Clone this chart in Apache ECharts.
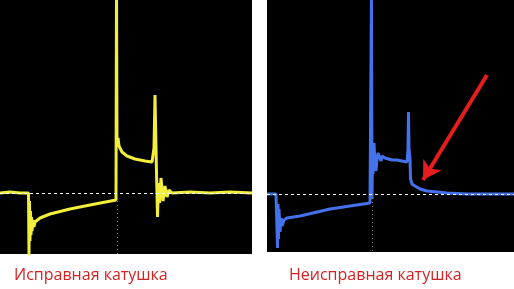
<!DOCTYPE html>
<html><head><meta charset="utf-8">
<script src="https://cdn.jsdelivr.net/npm/echarts@6/dist/echarts.min.js"></script>
<style>html,body{margin:0;padding:0;background:#fff}#c{width:514px;height:289px}</style>
</head><body><div id="c"></div>
<script>
// Left trace (good coil): time, voltage
const goodT = [0,10,20,28.5,29,29.5,30,30.5,31,31.5,32,33,34,35,37,40,50,70,90,116,116.5,117,118,119,122,127,135,145,152,154,155,155.7,156.5,157.5,158.5,159.5,161,163,165,167,169,172,190,210,230,252];
const goodV = [0,1,0,0,-62,-8,-48,-18,-42,-24,-38,-27,-34,-29,-28,-25,-21,-16,-12,-7,205,50,55,47,41,37,34,32,31,45,98,60,20,-24,10,-10,15,-8,7,-4,3,0,1,0,1,0];
// Right trace (faulty coil)
const badT = [0,9,10,10.5,11,11.5,12,13,14,15,17,20,33,63,103,104,104.5,105,105.5,106,107,108,109,110,111,112,114,115,116,118,120,125,130,135,140,141,141.5,142,143,143.5,145,148,153,160,170,180,200,247];
const badV = [0,0,0,-54,-10,-45,-15,-38,-24,-32,-26,-24,-22,-15,-9,-8,205,-5,40,20,51,30,23,35,41,38,33,38,40,36,35,34,34,33,32,45,82,45,35,15,10,8,5,3,2,1,0,0];
const captions = ['Исправная катушка', 'Неисправная катушка'];
const goodTrigger = 117, badTrigger = 105;
const arrowFrom = [220, 119], arrowTo = [156, 14];

const zip = (a, b) => a.map((x, i) => [x, b[i]]);
const chart = echarts.init(document.getElementById('c'), null, {renderer: 'canvas'});
const baseLine = (trig, ymin) => ({
  silent: true, symbol: 'none', label: {show: false},
  data: [
    {yAxis: 0, lineStyle: {color: '#fff', type: [3, 3], width: 1}},
    [{coord: [trig, 0], lineStyle: {color: '#777', type: [1, 3], width: 1}}, {coord: [trig, ymin]}]
  ]
});
const capStyle = {color: '#d42222', fontSize: 16, fontWeight: 'normal', fontFamily: 'Open Sans'};
chart.setOption({
  animation: false,
  title: [
    {text: captions[0], left: 14, top: 267, padding: 0, textStyle: capStyle},
    {text: captions[1], left: 289, top: 267, padding: 0, textStyle: capStyle}
  ],
  grid: [
    {left: 0, top: 0, width: 252, height: 254, show: true, backgroundColor: '#000', borderWidth: 0},
    {left: 267, top: 0, width: 247, height: 252, show: true, backgroundColor: '#000', borderWidth: 0}
  ],
  xAxis: [
    {type: 'value', gridIndex: 0, min: 0, max: 252, show: false},
    {type: 'value', gridIndex: 1, min: 0, max: 247, show: false}
  ],
  yAxis: [
    {type: 'value', gridIndex: 0, min: -61, max: 193, show: false},
    {type: 'value', gridIndex: 1, min: -58, max: 194, show: false}
  ],
  series: [
    {type: 'line', xAxisIndex: 0, yAxisIndex: 0, data: zip(goodT, goodV), symbol: 'none', clip: true,
     lineStyle: {color: '#f2ef3a', width: 3}, markLine: baseLine(goodTrigger, -61), z: 3},
    {type: 'line', xAxisIndex: 1, yAxisIndex: 1, data: zip(badT, badV), symbol: 'none', clip: true,
     lineStyle: {color: '#4472ec', width: 3}, markLine: baseLine(badTrigger, -58), z: 3},
    {type: 'line', xAxisIndex: 1, yAxisIndex: 1, data: [], z: 5,
     markLine: {silent: true, symbol: ['none', 'arrow'], symbolSize: [16, 18], label: {show: false},
       lineStyle: {color: '#e51d1d', width: 4, type: 'solid'},
       data: [[{coord: arrowFrom}, {coord: arrowTo}]]}}
  ]
});
</script></body></html>
